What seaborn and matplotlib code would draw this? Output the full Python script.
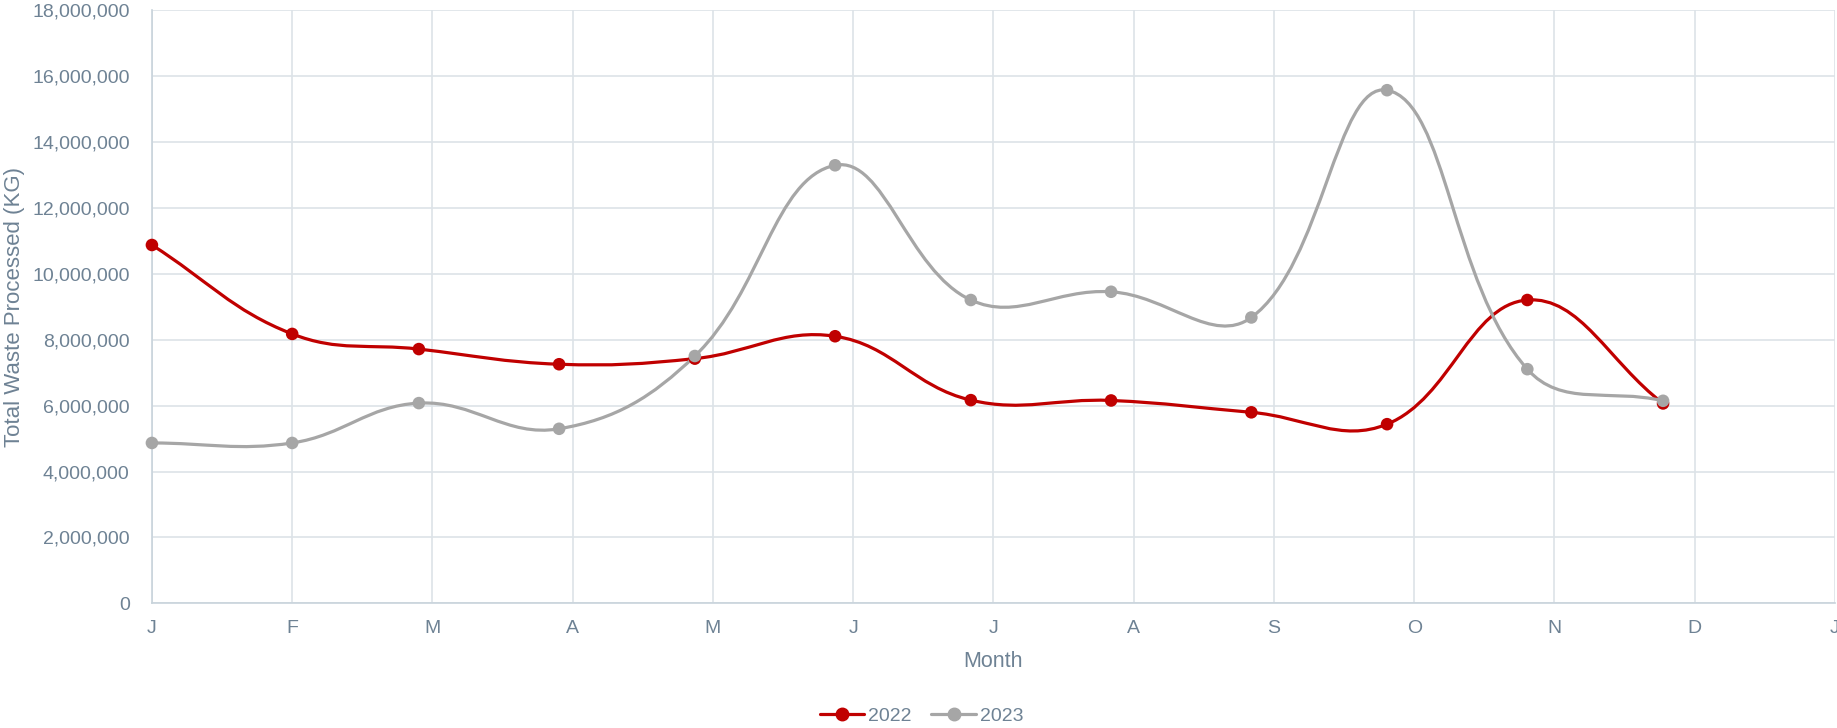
import numpy as np
import pandas as pd
import seaborn as sns
import matplotlib.pyplot as plt
from matplotlib.path import Path
from matplotlib.patches import PathPatch
from matplotlib.lines import Line2D
from matplotlib.ticker import FuncFormatter

# month starts, as day offsets from 1 Jan
months = pd.date_range('2022-01-01', periods=12, freq='MS')
days = (months.dayofyear - 1).to_numpy()

waste_2022 = [10.88e6, 8.18e6, 7.72e6, 7.26e6, 7.43e6, 8.11e6,
              6.17e6, 6.16e6, 5.80e6, 5.44e6, 9.21e6, 6.07e6]
waste_2023 = [4.87e6, 4.87e6, 6.08e6, 5.30e6, 7.51e6, 13.30e6,
              9.21e6, 9.46e6, 8.68e6, 15.58e6, 7.11e6, 6.15e6]
years = ['2022', '2023']
tick_labels = list('JFMAMJJASONDJ')

TEXT = '#6e8294'
GRID = '#dde3e8'
colors = {'2022': '#c00000', '2023': '#a6a6a6'}

X_MAX = 372
Y_MAX = 18e6


def spline_path(x, y, sx, sy, t=0.4):
    # bezier control points, same idea as chart.js tension curves
    px = np.asarray(x, float) * sx
    py = np.asarray(y, float) * sy
    n = len(px)
    prev_cp, next_cp = [], []
    for i in range(n):
        a = i - 1 if i > 0 else i
        b = i + 1 if i < n - 1 else i
        d01 = np.hypot(px[i] - px[a], py[i] - py[a])
        d12 = np.hypot(px[b] - px[i], py[b] - py[i])
        s = d01 + d12
        fa = t * (d01 / s if s else 0)
        fb = t * (d12 / s if s else 0)
        dx, dy = px[b] - px[a], py[b] - py[a]
        prev_cp.append((px[i] - fa * dx, py[i] - fa * dy))
        next_cp.append((px[i] + fb * dx, py[i] + fb * dy))
    verts = [(px[0], py[0])]
    codes = [Path.MOVETO]
    for i in range(n - 1):
        verts += [next_cp[i], prev_cp[i + 1], (px[i + 1], py[i + 1])]
        codes += [Path.CURVE4] * 3
    verts = [(vx / sx, vy / sy) for vx, vy in verts]
    return Path(verts, codes)


def main():
    df = pd.DataFrame({
        'day': np.concatenate([days, days]),
        'waste': waste_2022 + waste_2023,
        'year': ['2022'] * 12 + ['2023'] * 12,
    })

    sns.set_theme(style='white')
    plt.rcParams['font.family'] = ['Liberation Sans', 'DejaVu Sans']

    fig, ax = plt.subplots(figsize=(18.37, 7.28), dpi=100)
    fig.subplots_adjust(left=0.0827, right=0.9989, bottom=0.1712, top=0.9856)

    ax.set_xlim(0, X_MAX)
    ax.set_ylim(0, Y_MAX)

    sx = 1683 / X_MAX
    sy = 592 / Y_MAX
    for k, yr in enumerate(years):
        sub = df[df['year'] == yr]
        path = spline_path(sub['day'], sub['waste'], sx, sy)
        ax.add_patch(PathPatch(path, facecolor='none', edgecolor=colors[yr],
                               lw=2.3, zorder=3 + 2 * k, clip_on=False,
                               capstyle='round', joinstyle='round'))

    sns.scatterplot(data=df, x='day', y='waste', hue='year',
                    palette=colors, s=82, edgecolor='none',
                    legend=False, ax=ax, zorder=6)
    for coll in ax.collections:
        coll.set_clip_on(False)

    ax.set_xticks(np.arange(13) * 31)
    ax.set_xticklabels(tick_labels)
    ax.set_yticks(np.arange(0, Y_MAX + 1, 2e6))
    ax.yaxis.set_major_formatter(FuncFormatter(lambda v, p: f'{int(v):,}'))

    ax.grid(True, color=GRID, lw=1.2)
    ax.set_axisbelow(True)
    for side in ['top', 'right']:
        ax.spines[side].set_visible(False)
    for side in ['left', 'bottom']:
        ax.spines[side].set_color('#c8d3db')
        ax.spines[side].set_linewidth(1.2)

    ax.tick_params(axis='both', length=0, colors=TEXT, labelsize=14)
    ax.tick_params(axis='x', pad=12)
    ax.tick_params(axis='y', pad=16)

    ax.set_xlabel('Month', color=TEXT, fontsize=15.5, labelpad=10)
    ax.set_ylabel('Total Waste Processed (KG)', color=TEXT, fontsize=16,
                  labelpad=5)

    handles = [Line2D([], [], color=colors[yr], lw=2.3, marker='o',
                      markersize=9) for yr in years]
    leg = fig.legend(handles, years, loc='lower center', ncol=2,
                     bbox_to_anchor=(0.5016, -0.02), frameon=False,
                     fontsize=14, handlelength=2.3, handletextpad=0.2,
                     columnspacing=1.0)
    for txt in leg.get_texts():
        txt.set_color(TEXT)

    fig.savefig('out.png', dpi=100)


if __name__ == '__main__':
    main()
